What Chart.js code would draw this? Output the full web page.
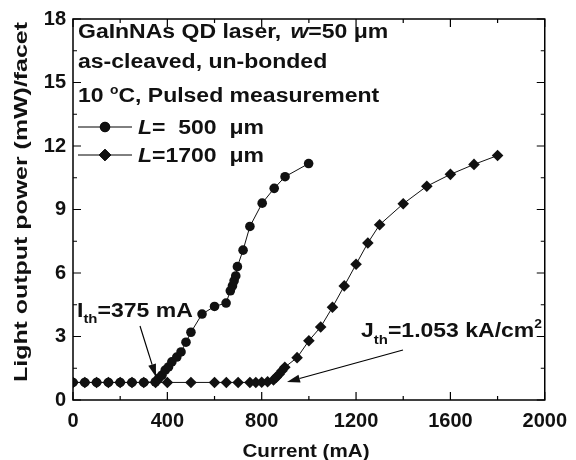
<!DOCTYPE html>
<html>
<head>
<meta charset="utf-8">
<script src="https://cdn.jsdelivr.net/npm/chart.js@4.4.1/dist/chart.umd.min.js"></script>
<style>
  html, body { margin: 0; padding: 0; background: #fff; }
  #wrap { width: 576px; height: 460px; }
</style>
</head>
<body>
<div id="wrap"><canvas id="grafico" width="576" height="460"></canvas></div>
<script>
// L = 500 um device (circles)
const current500 = [0, 50, 100, 150, 200, 250, 300, 349, 363, 377, 391, 405, 419, 440, 458, 479, 500, 547, 600, 649, 667, 676, 683, 690, 697, 721, 750, 802, 853, 899, 999];
const power500 = [0.83, 0.83, 0.83, 0.83, 0.83, 0.83, 0.83, 0.86, 1.02, 1.17, 1.41, 1.56, 1.80, 2.03, 2.27, 2.73, 3.20, 4.06, 4.42, 4.58, 5.16, 5.39, 5.63, 5.86, 6.30, 7.08, 8.20, 9.30, 10.0, 10.55, 11.17];

// L = 1700 um device (diamonds)
const current1700 = [0, 50, 100, 150, 200, 250, 300, 350, 400, 500, 600, 650, 700, 750, 775, 800, 825, 850, 862, 874, 886, 898, 950, 1000, 1050, 1100, 1150, 1200, 1250, 1300, 1400, 1500, 1600, 1700, 1800];
const power1700 = [0.83, 0.83, 0.83, 0.83, 0.83, 0.83, 0.83, 0.83, 0.83, 0.83, 0.83, 0.83, 0.83, 0.83, 0.83, 0.84, 0.86, 0.95, 1.08, 1.22, 1.38, 1.55, 2.0, 2.8, 3.45, 4.38, 5.39, 6.41, 7.42, 8.28, 9.27, 10.1, 10.66, 11.13, 11.55];

const xTicks = [0, 400, 800, 1200, 1600, 2000];
const yTicks = [0, 3, 6, 9, 12, 15, 18];

const FONT = '"Liberation Sans", Arial, Helvetica, sans-serif';
const SX = 1.15; // the original lettering is a bit wider than Arial

const toPoints = (xs, ys) => xs.map((x, i) => ({ x: x, y: ys[i] }));

// draws a line of text made of several styled pieces, stretched by sx
function drawRuns(ctx, x, y, runs, sx) {
  sx = sx || SX;
  let cx = x;
  runs.forEach(r => {
    const size = r.size || 20;
    ctx.font = (r.italic ? 'italic ' : '') + 'bold ' + size + 'px ' + FONT;
    ctx.save();
    ctx.translate(cx, y + (r.dy || 0));
    ctx.scale(sx, 1);
    ctx.fillText(r.t, 0, 0);
    ctx.restore();
    cx += (ctx.measureText(r.t).width + (r.gap || 0)) * sx;
  });
}

// text centred on (x, y) squeezed/stretched to a given length
function drawFitted(ctx, text, x, y, size, length, rot) {
  ctx.font = 'bold ' + size + 'px ' + FONT;
  const w = ctx.measureText(text).width;
  ctx.save();
  ctx.translate(x, y);
  ctx.rotate(rot || 0);
  ctx.scale(length / w, 1);
  ctx.textAlign = 'center';
  ctx.fillText(text, 0, 0);
  ctx.restore();
}

function arrow(ctx, x1, y1, x2, y2) {
  const ang = Math.atan2(y2 - y1, x2 - x1);
  const len = 13, half = 4;
  const bx = x2 - len * Math.cos(ang), by = y2 - len * Math.sin(ang);
  ctx.beginPath();
  ctx.moveTo(x1, y1);
  ctx.lineTo(bx, by);
  ctx.lineWidth = 1.2;
  ctx.stroke();
  ctx.beginPath();
  ctx.moveTo(x2, y2);
  ctx.lineTo(bx + half * Math.sin(ang), by - half * Math.cos(ang));
  ctx.lineTo(bx - half * Math.sin(ang), by + half * Math.cos(ang));
  ctx.closePath();
  ctx.fill();
}

const frameAndText = {
  id: 'frameAndText',
  afterDatasetsDraw(chart) {
    const ctx = chart.ctx;
    const a = chart.chartArea;
    const xs = chart.scales.x, ys = chart.scales.y;
    ctx.save();
    ctx.strokeStyle = '#000';
    ctx.fillStyle = '#111';
    ctx.lineWidth = 1.5;
    ctx.strokeRect(a.left, a.top, a.right - a.left, a.bottom - a.top);

    // inward ticks on all four sides
    ctx.lineWidth = 1.2;
    for (let v = 0; v <= 2000; v += 200) {
      const px = xs.getPixelForValue(v);
      const l = v % 400 === 0 ? 8 : 4;
      ctx.beginPath();
      ctx.moveTo(px, a.bottom); ctx.lineTo(px, a.bottom - l);
      ctx.moveTo(px, a.top); ctx.lineTo(px, a.top + l);
      ctx.stroke();
    }
    for (let v = 0; v <= 18; v += 1.5) {
      const py = ys.getPixelForValue(v);
      const l = v % 3 === 0 ? 8 : 4;
      ctx.beginPath();
      ctx.moveTo(a.left, py); ctx.lineTo(a.left + l, py);
      ctx.moveTo(a.right, py); ctx.lineTo(a.right - l, py);
      ctx.stroke();
    }

    ctx.textBaseline = 'alphabetic';
    ctx.textAlign = 'left';

    // axis titles
    drawFitted(ctx, 'Current (mA)', 306, 457, 18, 127, 0);
    drawFitted(ctx, 'Light output power (mW)/facet', 27, 202, 19, 360, -Math.PI / 2);

    // header text
    drawRuns(ctx, 78, 38, [{ t: 'GaInNAs QD laser,', gap: 8 }, { t: 'w', italic: true }, { t: '=50 \u03bcm' }]);
    drawRuns(ctx, 78, 68, [{ t: 'as-cleaved, un-bonded' }]);
    drawRuns(ctx, 78, 102, [{ t: '10 ' }, { t: 'o', size: 12, dy: -8 }, { t: 'C, Pulsed measurement' }]);

    // legend rows
    const legendRows = [
      { y: 127, base: 134, style: 'circle', r: 4.8, label: '=  500  \u03bcm' },
      { y: 155, base: 162, style: 'rectRot', r: 5.8, label: '=1700  \u03bcm' }
    ];
    legendRows.forEach(row => {
      ctx.lineWidth = 1;
      ctx.beginPath();
      ctx.moveTo(78, row.y); ctx.lineTo(132, row.y);
      ctx.stroke();
      Chart.helpers.drawPoint(ctx, { pointStyle: row.style, radius: row.r, borderWidth: 1, rotation: 0 }, 105, row.y);
      ctx.fill();
      drawRuns(ctx, 138, row.base, [{ t: 'L', italic: true }, { t: row.label }]);
    });

    // threshold annotations
    drawRuns(ctx, 77, 317, [{ t: 'I' }, { t: 'th', size: 13, dy: 6 }, { t: '=375 mA' }]);
    arrow(ctx, 140, 326, 156, 377);
    drawRuns(ctx, 361, 337, [{ t: 'J' }, { t: 'th', size: 13, dy: 7 }, { t: '=1.053 kA/cm' }, { t: '2', size: 12, dy: -9 }]);
    arrow(ctx, 403, 350, 287, 382);
    ctx.restore();
  }
};

const ctxGrafico = document.getElementById('grafico').getContext('2d');
new Chart(ctxGrafico, {
  type: 'scatter',
  data: {
    datasets: [
      {
        label: 'L=500 um',
        data: toPoints(current500, power500),
        showLine: true,
        borderColor: '#111',
        backgroundColor: '#111',
        borderWidth: 1,
        pointStyle: 'circle',
        pointRadius: 4.8,
        pointBorderWidth: 0,
        tension: 0
      },
      {
        label: 'L=1700 um',
        data: toPoints(current1700, power1700),
        showLine: true,
        borderColor: '#111',
        backgroundColor: '#111',
        borderWidth: 1,
        pointStyle: 'rectRot',
        pointRadius: 5.8,
        pointBorderWidth: 0,
        tension: 0
      }
    ]
  },
  options: {
    responsive: false,
    animation: false,
    layout: { padding: { left: 0, top: 16, right: 24, bottom: 0 } },
    plugins: {
      legend: { display: false },
      tooltip: { enabled: false }
    },
    scales: {
      x: {
        type: 'linear',
        min: 0,
        max: 2000,
        afterFit: s => { s.height = 60; },
        afterBuildTicks: s => { s.ticks = xTicks.map(v => ({ value: v })); },
        grid: { display: false, drawTicks: false },
        border: { display: false },
        ticks: { color: '#111', padding: 9, maxRotation: 0, callback: v => String(v), font: { family: FONT, size: 20, weight: 'bold' } },
        title: { display: false }
      },
      y: {
        type: 'linear',
        min: 0,
        max: 18,
        afterFit: s => { s.width = 73; },
        afterBuildTicks: s => { s.ticks = yTicks.map(v => ({ value: v })); },
        grid: { display: false, drawTicks: false },
        border: { display: false },
        ticks: { color: '#111', padding: 7, callback: v => String(v), font: { family: FONT, size: 20, weight: 'bold' } },
        title: { display: false }
      }
    }
  },
  plugins: [frameAndText]
});
</script>
</body>
</html>
